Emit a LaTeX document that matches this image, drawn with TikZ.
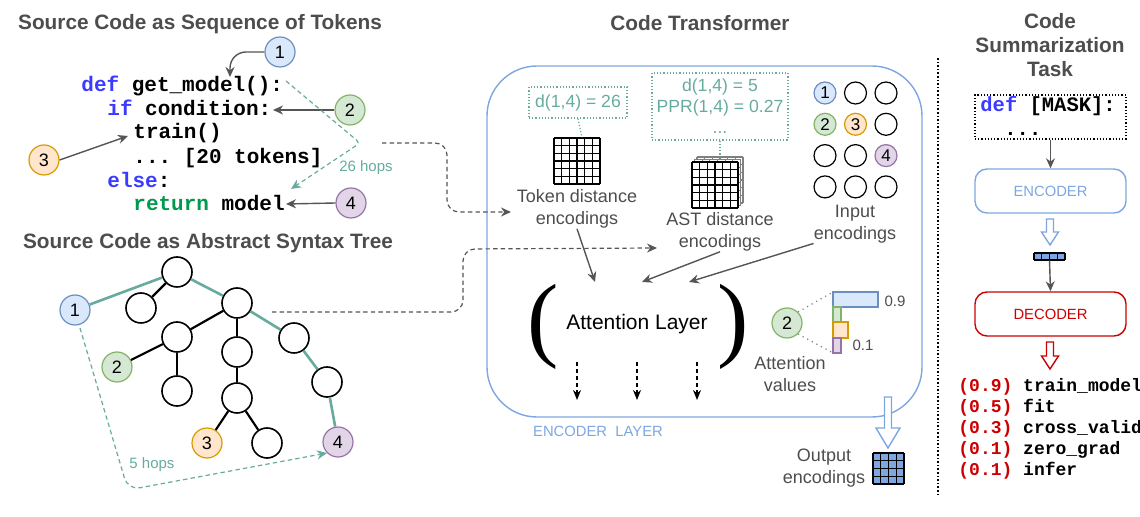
\documentclass[tikz,border=0pt]{standalone}
\usepackage{fontspec}
\setmainfont{Liberation Sans}
\setsansfont{Liberation Sans}
\setmonofont{Liberation Mono}
\newfontfamily\parfont{Liberation Serif}
\usetikzlibrary{arrows.meta, positioning, calc}

\definecolor{txtgray}{HTML}{4D4D4D}
\definecolor{arrgray}{HTML}{555555}
\definecolor{hopteal}{HTML}{67AB9F}
\definecolor{encblue}{HTML}{7EA6E0}
\definecolor{fblue}{HTML}{DAE8FC}
\definecolor{dblue}{HTML}{6C8EBF}
\definecolor{fgreen}{HTML}{D5E8D4}
\definecolor{dgreen}{HTML}{82B366}
\definecolor{forange}{HTML}{FFE6CC}
\definecolor{dorange}{HTML}{D79B00}
\definecolor{fpurple}{HTML}{E1D5E7}
\definecolor{dpurple}{HTML}{9673A6}
\definecolor{kwblue}{HTML}{3B3BFF}
\definecolor{kwgreen}{HTML}{00994D}
\definecolor{decred}{HTML}{CC0000}

\newcommand{\kw}[1]{\textcolor{kwblue}{#1}}

% grid of encodings: x, y (top left), size, cells, style
\newcommand{\encgrid}[5]{%
	\foreach \k in {0,...,#4} {
		\draw[#5] ({#1+\k*#3/#4},#2) -- ({#1+\k*#3/#4},{#2+#3});
		\draw[#5] (#1,{#2+\k*#3/#4}) -- ({#1+#3},{#2+\k*#3/#4});
	}}

% hollow block arrow: x, top, neck, tip, half head, colour
\newcommand{\fatarrow}[6]{%
	\draw[draw=#6, fill=white, line width=0.7pt, line join=miter]
		({#1-3.5},#2) -- ({#1+3.5},#2) -- ({#1+3.5},#3) -- ({#1+#5},#3) -- (#1,#4)
		-- ({#1-#5},#3) -- ({#1-3.5},#3) -- cycle;}

\begin{document}
\begin{tikzpicture}[x=0.5pt, y=-0.5pt,
		title/.style={font=\fontsize{10.4}{12}\selectfont\bfseries, text=txtgray, align=center},
		lbl/.style={font=\fontsize{9}{11}\selectfont, text=txtgray, align=center, inner sep=0},
		code/.style={font=\fontsize{10.5}{12}\selectfont\ttfamily\bfseries, anchor=base west, inner sep=0},
		tok/.style={circle, draw, line width=0.6pt, minimum size=15pt, inner sep=0, font=\fontsize{9}{9}\selectfont},
		incirc/.style={circle, draw, line width=0.6pt, minimum size=11pt, inner sep=0, font=\fontsize{8.5}{8.5}\selectfont},
		tb/.style={fill=fblue, draw=dblue},
		tg/.style={fill=fgreen, draw=dgreen},
		to/.style={fill=forange, draw=dorange},
		tp/.style={fill=fpurple, draw=dpurple},
		tw/.style={draw=black},
		astnode/.style={circle, draw, fill=white, line width=0.8pt, minimum size=15pt, inner sep=0},
		greenedge/.style={hopteal, line width=1.3pt},
		blackedge/.style={black, line width=1.1pt},
		hop/.style={hopteal, dash pattern=on 2.2pt off 1.6pt, line width=0.6pt, -{Stealth[length=5pt,width=4.5pt]}},
		link/.style={arrgray, dash pattern=on 2.2pt off 1.6pt, line width=0.6pt, rounded corners=6pt, -{Stealth[length=5pt,width=4.5pt]}},
		ptr/.style={arrgray, line width=0.7pt, -{Stealth[length=5pt,width=4.5pt]}},
		dbox/.style={draw=hopteal, densely dotted, line width=0.6pt, text=hopteal, align=center, font=\fontsize{8.8}{10.5}\selectfont, inner sep=2pt},
		bluebox/.style={draw=encblue, rounded corners=6pt, line width=0.7pt, minimum width=75.5pt, minimum height=22pt, font=\fontsize{7.4}{8}\selectfont},
	]
	\useasboundingbox (0,0) rectangle (1140,517);

	% Titles
	\node[title] (tseq) at (200,24) {Source Code as Sequence of Tokens};
	\node[title] (tast) at (208,243) {Source Code as Abstract Syntax Tree};
	\node[title] (ttrf) at (700,23) {Code Transformer};
	\node[title] (tsum) at (1050,45) {Code\\Summarization\\Task};

	% Source code
	\node[code] (l1) at (81,92) {\kw{def} get\_model():};
	\node[code] (l2) at (107,116) {\kw{if} condition:};
	\node[code] (l3) at (133,139) {train()};
	\node[code] (l4) at (133,164) {... [20 tokens]};
	\node[code] (l5) at (107,188) {\kw{else}:};
	\node[code] (l6) at (133,211) {\textcolor{kwgreen}{return} model};

	% Token markers
	\node[tok, tb] (t1) at (280,52) {1};
	\node[tok, tg] (t2) at (350,110) {2};
	\node[tok, to] (t3) at (44,160) {3};
	\node[tok, tp] (t4) at (351,203) {4};
	\coordinate (p1) at (230,77);
	\coordinate (p2) at (273,110);
	\coordinate (p3) at (128,136);
	\coordinate (p4) at (286,204);
	\draw[ptr, rounded corners=8pt] (t1.west) -| (p1);
	\draw[ptr] (t2.west) -- (p2);
	\draw[ptr] (t3.east) -- (p3);
	\draw[ptr] (t4.west) -- (p4);

	% Hops in the token sequence
	\coordinate (hs) at (286,81);
	\coordinate (he) at (291,189);
	\draw[hop, rounded corners=2pt] (hs) -- (360,143) -- (he);
	\node[font=\fontsize{7.5}{8}\selectfont, text=hopteal] (h26) at (366,168) {26 hops};

	% Abstract syntax tree
	\node[astnode] (root) at (177,272) {};
	\node[astnode] (na) at (141,308) {};
	\node[astnode] (nb) at (237,303) {};
	\node[tok, tb] (n1) at (75,310) {1};
	\node[astnode] (nc) at (177,337) {};
	\node[astnode] (nd) at (237,352) {};
	\node[astnode] (ne) at (294,338) {};
	\node[tok, tg] (n2) at (117,367) {2};
	\node[astnode] (nf) at (177,391) {};
	\node[astnode] (ng) at (237,398) {};
	\node[astnode] (nh) at (327,382) {};
	\node[tok, to] (n3) at (207,443) {3};
	\node[astnode] (ni) at (267,443) {};
	\node[tok, tp] (n4) at (338,442) {4};
	\foreach \a/\b in {n1/root, root/nb, nb/ne, ne/nh, nh/n4}
		\draw[greenedge] (\a) -- (\b);
	\foreach \a/\b in {root/na, nb/nc, nc/n2, nc/nf, nb/nd, nd/ng, ng/n3, ng/ni}
		\draw[blackedge] (\a) -- (\b);

	% Hops in the tree
	\coordinate (ts) at (80,328);
	\draw[hop, rounded corners=6pt] (ts) -- (128,490) -- (n4.south west);
	\node[font=\fontsize{7.5}{8}\selectfont, text=hopteal] (h5) at (152,465) {5 hops};

	% Encoder layer
	\node[draw=encblue, line width=0.7pt, rounded corners=25pt, minimum width=217.5pt, minimum height=175.5pt, inner sep=0] (enc) at (704.5,241.5) {};
	\node[font=\fontsize{7.4}{8}\selectfont, text=encblue] (encl) at (598,431) {ENCODER~~LAYER};

	% Token distance encodings
	\node[dbox, minimum width=49pt, minimum height=15.5pt] (db1) at (578,102.5) {d(1,4) = 26};
	\node[minimum size=23pt, inner sep=0] (tokgrid) at (577,161) {};
	\fill[white] (554,138) rectangle (600,184);
	\encgrid{554}{138}{46}{6}{black, line width=0.7pt}
	\draw[hopteal, densely dotted, line width=0.6pt] (db1.south) -- ($(tokgrid.north)+(5,0)$);
	\node[lbl] (toklbl) at (577,209) {Token distance\\encodings};

	% AST distance encodings
	\node[dbox, minimum width=68pt, minimum height=33.5pt] (db2) at (720,106.5) {d(1,4) = 5\\PPR(1,4) = 0.27\\...};
	\node[minimum size=23pt, inner sep=0] (astgrid) at (715,185) {};
	\foreach \d in {5,2.5} {
		\fill[white] ({692+\d},{162-\d}) rectangle ({738+\d},{208-\d});
		\encgrid{692+\d}{162-\d}{46}{6}{gray, line width=0.6pt}
	}
	\fill[white] (692,162) rectangle (738,208);
	\encgrid{692}{162}{46}{6}{black, line width=0.7pt}
	\draw[hopteal, densely dotted, line width=0.6pt] (db2.south) -- ($(astgrid.north)+(5,-5)$);
	\node[lbl] (astlbl) at (720,232) {AST distance\\encodings};

	% Input encodings
	\foreach \r/\c/\s/\t in {0/0/tb/1, 0/1/tw/, 0/2/tw/, 1/0/tg/2, 1/1/to/3, 1/2/tw/, 2/0/tw/, 2/1/tw/, 2/2/tp/4, 3/0/tw/, 3/1/tw/, 3/2/tw/}
		\node[incirc, \s] (in\r\c) at ({825+30.5*\c},{93+31.3*\r}) {\t};
	\node[lbl] (inlbl) at (855,224) {Input\\encodings};

	% Links from the sources
	\coordinate (cs) at (382,143);
	\coordinate (ci) at (511,212);
	\draw[link] (cs) -- (447,143) -- (447,212) -- (ci);
	\coordinate (as) at (272,312);
	\coordinate (ai) at (657,248);
	\draw[link] (as) -- (463,312) -- (463,249) -- (ai);

	% Attention layer
	\node[font=\fontsize{10.5}{12}\selectfont] (attn) at (637,324) {Attention Layer};
	\node[font=\fontsize{47}{47}\parfont, inner sep=0] (lpar) at (543,327) {(};
	\node[font=\fontsize{47}{47}\parfont, inner sep=0] (rpar) at (733,327) {)};
	\coordinate (a1) at (595,282);
	\coordinate (a2) at (642,282);
	\coordinate (a3) at (689,282);
	\draw[ptr] (toklbl.south) -- (a1);
	\draw[ptr] (astlbl.south) -- (a2);
	\draw[ptr] (inlbl.south west) -- (a3);
	\foreach \x [count=\i] in {577,637,697} {
		\coordinate (s\i) at (\x,362);
		\coordinate (o\i) at (\x,400);
		\draw[black, dash pattern=on 2pt off 1.5pt, line width=0.6pt, -{Stealth[length=5pt,width=4pt]}] (s\i) -- (o\i);
	}

	% Attention values
	\node[tok, tg] (att2) at (787,323) {2};
	\draw[tb, line width=0.6pt] (833,292) rectangle (878,307);
	\draw[tg, line width=0.6pt] (833,307) rectangle (841,322);
	\draw[to, line width=0.6pt] (833,322) rectangle (848,338);
	\draw[tp, line width=0.6pt] (833,338) rectangle (841,353);
	\draw[gray, dotted, line width=0.6pt] (att2.north east) -- (833,292);
	\draw[gray, dotted, line width=0.6pt] (att2.south east) -- (833,353);
	\node[font=\fontsize{7.5}{8}\selectfont, text=txtgray] (v9) at (895,301) {0.9};
	\node[font=\fontsize{7.5}{8}\selectfont, text=txtgray] (v1) at (863,345) {0.1};
	\node[lbl] (attlbl) at (790,374) {Attention\\values};

	% Output encodings
	\fatarrow{888}{397}{428}{448}{12}{encblue}
	\node[minimum size=15.5pt, inner sep=0] (outgrid) at (888.5,468.5) {};
	\fill[encblue] (873,453) rectangle (904,484);
	\encgrid{873}{453}{31}{4}{black, line width=0.7pt}
	\node[lbl] (outlbl) at (824,468) {Output\\encodings};

	% Separator
	\draw[black, densely dotted, line width=0.8pt] (938,58) -- (938,495);

	% Code summarization task
	\node[draw, densely dotted, line width=0.6pt, minimum width=75.5pt, minimum height=22pt] (mask) at (1050.5,117) {};
	\node[code, font=\fontsize{10.25}{12}\selectfont\ttfamily\bfseries] (m1) at (980,112) {\kw{def} [MASK]:};
	\node[code, font=\fontsize{10.25}{12}\selectfont\ttfamily\bfseries] (m2) at (1004,136) {...};
	\node[bluebox, text=encblue] (encb) at (1050.5,191) {ENCODER};
	\node[bluebox, draw=decred, text=decred] (decb) at (1050.5,314) {DECODER};
	\draw[ptr] (mask.south) -- (encb.north);
	\fatarrow{1050}{219}{232}{245}{8.5}{encblue}
	\node[minimum width=15.5pt, minimum height=3.5pt, inner sep=0] (vec) at (1049.5,256.5) {};
	\fill[encblue] (1034,253) rectangle (1065,260);
	\foreach \k in {0,...,4}
		\draw[black, line width=0.7pt] ({1034+\k*7.75},253) -- ({1034+\k*7.75},260);
	\draw[black, line width=0.7pt] (1034,253) -- (1065,253) (1034,260) -- (1065,260);
	\draw[ptr] (vec.south) -- (decb.north);
	\fatarrow{1050}{342}{356}{369}{8.5}{decred}

	% Predictions
	\foreach \p/\w [count=\i from 0] in {0.9/train\_model, 0.5/fit, 0.3/cross\_valid, 0.1/zero\_grad, 0.1/infer}
		\node[code, font=\fontsize{9}{10}\selectfont\ttfamily\bfseries] (pred\i) at (958,{392+21*\i}) {\textcolor{decred}{(\p)} \w};
\end{tikzpicture}
\end{document}
